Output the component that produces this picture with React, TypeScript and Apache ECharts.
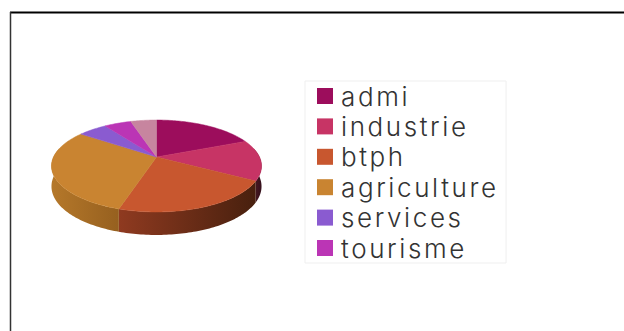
import React, { useEffect, useRef } from "react";
import * as echarts from "echarts";

// Employment shares by sector; the last slice has no legend entry.
const sectors = ["admi", "industrie", "btph", "agriculture", "services", "tourisme", "autres"];
const shares = [18.8, 14.4, 21.6, 30, 5.4, 5, 4.8];
const faceColors = ["#9c0d5c", "#c73465", "#c8572f", "#c98431", "#8a5bd0", "#bb35b5", "#c7859f"];
const legendNames = sectors.slice(0, 6);

// Perspective disc: unit circle projected around its apex.
const APEX_X = 156.5;
const APEX_Y = 157;
const SCALE_X = 103;
const SCALE_Y = 44.2;
const TILT = 0.1957;
const DEPTH = 23;

const project = (angle: number) => {
  const u = Math.sin(angle);
  const v = -Math.cos(angle);
  const w = 1 - TILT * v;
  return { x: APEX_X + (SCALE_X * u) / w, y: APEX_Y + (SCALE_Y * v) / w, v };
};

const total = shares.reduce((a, b) => a + b, 0);
const sliceRange = (index: number) => {
  const before = shares.slice(0, index).reduce((a, b) => a + b, 0);
  return [(before / total) * Math.PI * 2, ((before + shares[index]) / total) * Math.PI * 2];
};

const rimPoints = (start: number, end: number) => {
  const steps = Math.max(2, Math.ceil((end - start) / 0.02));
  const points: { x: number; y: number; v: number }[] = [];
  for (let i = 0; i <= steps; i++) points.push(project(start + ((end - start) * i) / steps));
  return points;
};

// The front wall is visible where the rim faces the viewer.
const FRONT_START = Math.PI / 2 - Math.asin(TILT);
const FRONT_END = Math.PI * 1.5 + Math.asin(TILT);

const wallStops: Record<number, [string, string]> = {
  0: ["#4a0d30", "#4a0d30"],
  1: ["#4a1a22", "#35101c"],
  2: ["#8f3a20", "#48200e"],
  3: ["#b5782a", "#96601f"],
};

const faceItem = (index: number) => (_params: unknown, _api: unknown) => {
  const [start, end] = sliceRange(index);
  const rim = rimPoints(start, end).map((p) => [p.x, p.y]);
  return {
    type: "polygon",
    shape: { points: [[APEX_X, APEX_Y], ...rim] },
    style: { fill: faceColors[index], stroke: faceColors[index], lineWidth: 0.5 },
  };
};

const wallItem = (_params: unknown, _api: unknown) => {
  const children: object[] = [];
  shares.forEach((_share, index) => {
    const [start, end] = sliceRange(index);
    const from = Math.max(start, FRONT_START);
    const to = Math.min(end, FRONT_END);
    if (to <= from || !wallStops[index]) return;
    const top = rimPoints(from, to);
    const bottom = top.map((p) => [p.x, p.y + DEPTH * (0.86 + 0.14 * p.v)]).reverse();
    const [colorA, colorB] = wallStops[index];
    children.push({
      type: "polygon",
      shape: { points: [...top.map((p) => [p.x, p.y]), ...bottom] },
      style: {
        fill: new echarts.graphic.LinearGradient(0, 0, 1, 0, [
          { offset: 0, color: colorA },
          { offset: 1, color: colorB },
        ]),
        stroke: "none",
      },
    });
  });
  return { type: "group", children };
};

export default function App() {
  const ref = useRef<HTMLDivElement>(null);

  useEffect(() => {
    if (!ref.current) return;
    const chart = echarts.init(ref.current, undefined, { renderer: "svg" });
    chart.setOption({
      animation: false,
      backgroundColor: "#ffffff",
      legend: {
        orient: "vertical",
        left: 305,
        top: 81,
        padding: [0, 36, 0, 12],
        data: legendNames,
        icon: "rect",
        itemWidth: 16,
        itemHeight: 16,
        itemGap: 0.4,
        selectedMode: false,
        backgroundColor: "#ffffff",
        borderColor: "#efefef",
        borderWidth: 1,
        textStyle: {
          fontFamily: "Inter",
          fontWeight: 300,
          fontSize: 26,
          color: "#333333",
          lineHeight: 30,
          padding: [0, 0, 0, 3],
        },
      },
      graphic: [
        { type: "line", shape: { x1: 10, y1: 12.5, x2: 624, y2: 12.5 }, style: { stroke: "#000000", lineWidth: 2 } },
        { type: "line", shape: { x1: 10.5, y1: 12, x2: 10.5, y2: 331 }, style: { stroke: "#333333", lineWidth: 1.5 } },
      ],
      series: [
        {
          type: "custom",
          name: "parois",
          coordinateSystem: "none",
          silent: true,
          z: 1,
          data: [shares],
          renderItem: wallItem,
        },
        ...sectors.map((name, index) => ({
          type: "custom",
          name,
          coordinateSystem: "none",
          silent: true,
          z: 2,
          itemStyle: { color: faceColors[index] },
          data: [shares[index]],
          renderItem: faceItem(index),
        })),
      ],
    });
    return () => chart.dispose();
  }, []);

  // The legend lettering is set wide; SVG text inherits the spacing from this box.
  return (
    <div
      ref={ref}
      style={{ position: "absolute", left: 0, top: 0, width: 624, height: 331, letterSpacing: "2.6px" }}
    />
  );
}
